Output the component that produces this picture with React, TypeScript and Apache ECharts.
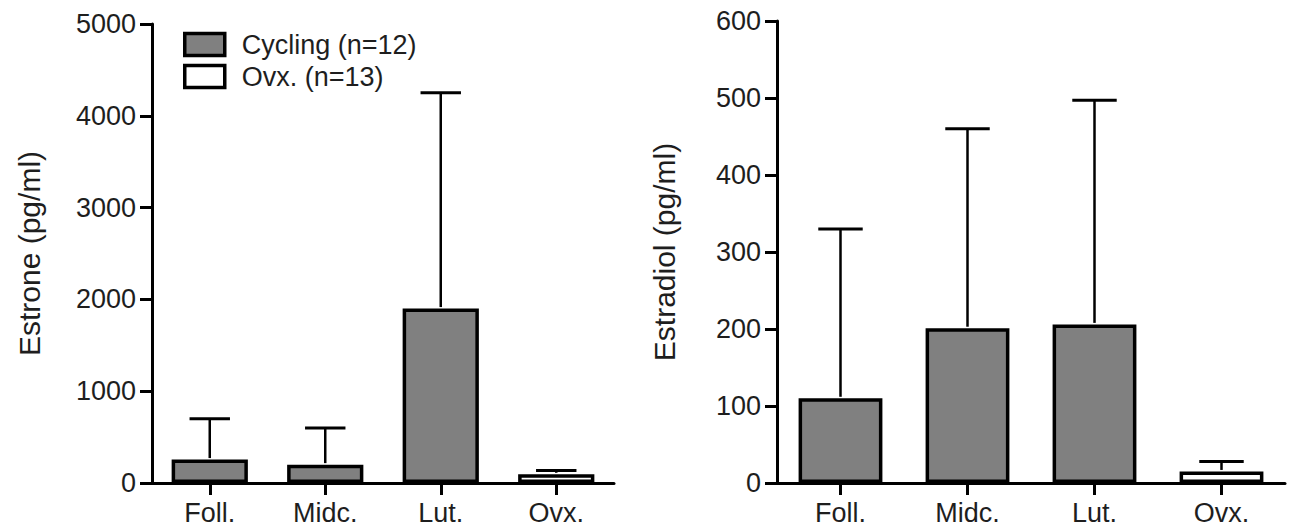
import React, { useEffect, useRef } from "react";
import * as echarts from "echarts";

const categories = ["Foll.", "Midc.", "Lut.", "Ovx."];

// Left panel: Estrone (pg/ml)
const estroneCycling = [255, 200, 1900, null];
const estroneOvx = [null, null, null, 95];
const estroneUpper = [700, 600, 4250, 135];
const estroneTicks = [0, 1000, 2000, 3000, 4000, 5000];

// Right panel: Estradiol (pg/ml)
const estradiolCycling = [110, 201, 206, null];
const estradiolOvx = [null, null, null, 15];
const estradiolUpper = [330, 460, 497, 28];
const estradiolTicks = [0, 100, 200, 300, 400, 500, 600];

const seriesNames = ["Cycling (n=12)", "Ovx. (n=13)"];

const FONT = "'Liberation Sans', Arial, Helvetica, sans-serif";
const TXT = "#1e1e1e";
const GRAY = "#808080";

export default function App() {
  const ref = useRef<HTMLDivElement>(null);

  useEffect(() => {
    if (!ref.current) return;
    const chart = echarts.init(ref.current, undefined, { renderer: "svg" });

    const means = [estroneCycling, estradiolCycling];
    const ovx = [estroneOvx, estradiolOvx];
    const uppers = [estroneUpper, estradiolUpper];
    const ticks = [estroneTicks, estradiolTicks];
    const titles = ["Estrone (pg/ml)", "Estradiol (pg/ml)"];

    const xAxes: any[] = [];
    const yAxes: any[] = [];
    const series: any[] = [];

    [0, 1].forEach((g) => {
      xAxes.push({
        type: "category",
        gridIndex: g,
        data: categories,
        axisLine: { show: true, lineStyle: { color: "#000", width: 3 } },
        axisTick: { show: true, alignWithLabel: true, length: 12, lineStyle: { color: "#000", width: 3 } },
        axisLabel: { color: TXT, fontSize: 27, fontFamily: FONT, margin: 16 },
      });
      const t = ticks[g];
      yAxes.push({
        type: "value",
        gridIndex: g,
        min: t[0],
        max: t[t.length - 1],
        interval: t[1] - t[0],
        name: titles[g],
        nameLocation: "middle",
        nameRotate: 90,
        nameGap: g === 0 ? 108 : 98,
        nameTextStyle: { color: TXT, fontSize: 30, fontFamily: FONT },
        axisLine: { show: true, lineStyle: { color: "#000", width: 3 } },
        axisTick: { show: true, length: 12, lineStyle: { color: "#000", width: 3 } },
        splitLine: { show: false },
        axisLabel: {
          color: TXT,
          fontSize: 27,
          fontFamily: FONT,
          margin: 16,
          formatter: (v: number) => String(v),
        },
      });

      series.push({
        name: seriesNames[0],
        type: "bar",
        xAxisIndex: g,
        yAxisIndex: g,
        data: means[g].map((v) => (v == null ? "-" : v)),
        barWidth: "66%",
        barGap: "-100%",
        itemStyle: { color: GRAY, borderColor: "#000", borderWidth: 3.5 },
        z: 2,
      });
      series.push({
        name: seriesNames[1],
        type: "bar",
        xAxisIndex: g,
        yAxisIndex: g,
        data: ovx[g].map((v) => (v == null ? "-" : v)),
        barWidth: "66%",
        barGap: "-100%",
        itemStyle: { color: "#ffffff", borderColor: "#000", borderWidth: 3.5 },
        z: 2,
      });

      const errData = categories.map((_, i) => {
        const m = means[g][i] != null ? means[g][i] : ovx[g][i];
        return [i, m, uppers[g][i]];
      });
      series.push({
        type: "custom",
        xAxisIndex: g,
        yAxisIndex: g,
        data: errData,
        z: 3,
        renderItem: (params: any, api: any) => {
          const x = api.value(0);
          const base = api.coord([x, api.value(1)]);
          const top = api.coord([x, api.value(2)]);
          const band = api.size([1, 0])[0];
          const half = band * 0.175;
          return {
            type: "group",
            children: [
              {
                type: "line",
                shape: { x1: base[0], y1: base[1] - 1.5, x2: top[0], y2: top[1] },
                style: { stroke: "#000", lineWidth: 2.5 },
              },
              {
                type: "line",
                shape: { x1: top[0] - half, y1: top[1], x2: top[0] + half, y2: top[1] },
                style: { stroke: "#000", lineWidth: 3 },
              },
            ],
          };
        },
      });
    });

    chart.setOption({
      animation: false,
      backgroundColor: "#ffffff",
      grid: [
        { left: 152, top: 24, width: 462, height: 459, containLabel: false },
        { left: 777, top: 21, width: 508, height: 462, containLabel: false },
      ],
      legend: {
        show: true,
        orient: "vertical",
        left: 178,
        top: 26,
        itemWidth: 40,
        itemHeight: 22,
        itemGap: 5,
        icon: "rect",
        data: [
          { name: seriesNames[0], itemStyle: { color: GRAY, borderColor: "#000", borderWidth: 3.5 } },
          { name: seriesNames[1], itemStyle: { color: "#fff", borderColor: "#000", borderWidth: 3.5 } },
        ],
        textStyle: { color: TXT, fontSize: 27, fontFamily: FONT, padding: [0, 0, 0, 12] },
        selectedMode: false,
      },
      xAxis: xAxes,
      yAxis: yAxes,
      series,
    });

    return () => chart.dispose();
  }, []);

  return (
    <div
      ref={ref}
      style={{ position: "fixed", left: 0, top: 0, width: 1290, height: 531, background: "#fff" }}
    />
  );
}
